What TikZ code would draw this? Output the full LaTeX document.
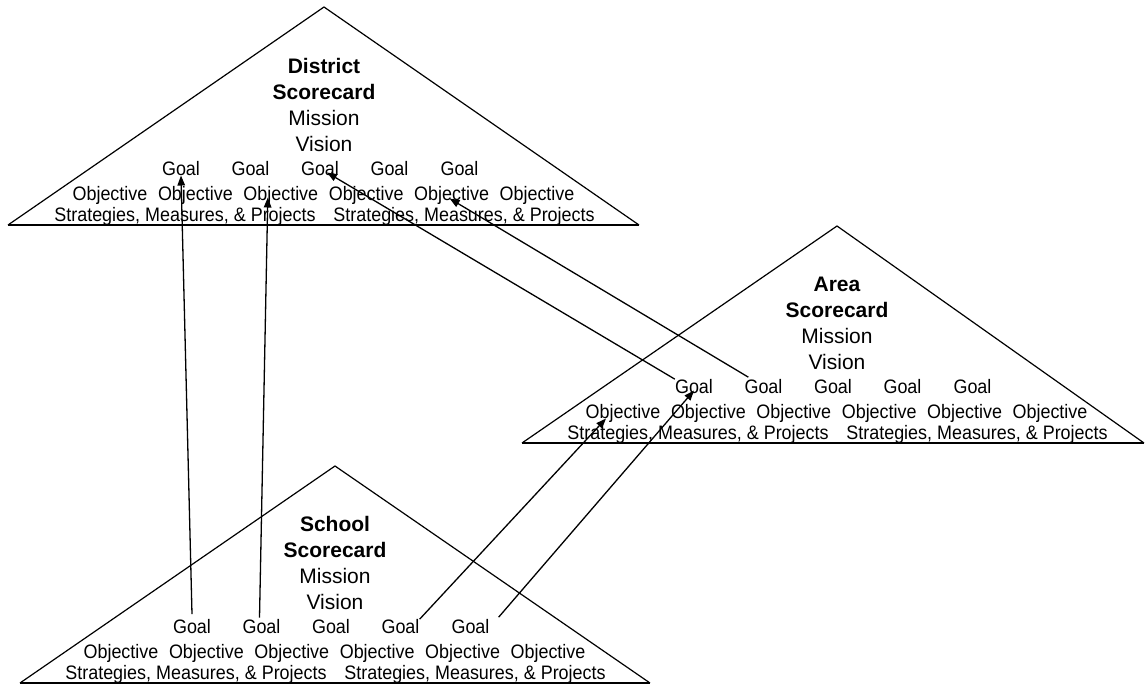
\documentclass[tikz,border=0pt]{standalone}
\usepackage{fontspec}
\setmainfont{Liberation Sans}
\newfontfamily\narrowsans{Liberation Sans}[FakeStretch=0.92]
\usetikzlibrary{arrows.meta}

\tikzset{
  side/.style={line width=1.2pt, line join=miter},
  baseline rule/.style={line width=2pt},
  txt/.style={inner sep=0pt, anchor=base},
  title/.style={txt, font=\fontsize{21}{21}\selectfont\bfseries},
  big/.style={txt, font=\fontsize{21}{21}\selectfont},
  small/.style={txt, font=\narrowsans\fontsize{19.5}{19.5}\selectfont},
  arr/.style={line width=1.3pt, -{Triangle[length=10pt,width=7.5pt]}},
}

% #1 name prefix, #2 left x, #3 apex x, #4 apex y, #5 right x, #6 base y, #7 title word
\newcommand\scorecardtri[7]{%
  \draw[side] (#2,#6) -- (#3,#4) -- (#5,#6);
  \draw[baseline rule] (#2,#6) -- (#5,#6);
  \begin{scope}[shift={(#3,#6)}]
    \node[title] (#1-t1) at (0,-151.5) {#7};
    \node[title] (#1-t2) at (0,-125.5) {Scorecard};
    \node[big]   (#1-m)  at (0,-99.5)  {Mission};
    \node[big]   (#1-v)  at (0,-73.5)  {Vision};
    \foreach \dx [count=\i] in {-143,-73.5,-4,65.5,135.5}
      \node[small] (#1-g\i) at (\dx,-49.5) {Goal};
    \foreach \dx [count=\i] in {-214,-128.6,-43.2,42.2,127.6,213}
      \node[small] (#1-o\i) at (\dx,-24.5) {Objective};
    \node[small] (#1-s1) at (-139,-3.5) {Strategies, Measures, \& Projects};
    \node[small] (#1-s2) at (140,-3.5)  {Strategies, Measures, \& Projects};
  \end{scope}
}

\begin{document}
\begin{tikzpicture}[x=1pt, y=-1pt]
  \useasboundingbox (0,0) rectangle (1145,685);

  \scorecardtri{d}{8}{324}{7}{639}{225}{District}
  \scorecardtri{a}{522}{837}{226}{1144}{443}{Area}
  \scorecardtri{s}{20}{335}{466}{650}{683}{School}

  % school goals feeding the district scorecard
  \draw[arr] ([yshift=5pt]s-g1.north) -- (d-g1.base);
  \draw[arr] ([xshift=-2pt,yshift=1.5pt]s-g2.north) -- ([xshift=-13pt,yshift=3pt]d-o3.base);
  % area goals feeding the district scorecard
  \draw[arr] (a-g1.north west) -- ([xshift=7pt,yshift=3pt]d-g3.base);
  \draw[arr] ([xshift=4pt,yshift=2pt]a-g2.north west) -- ([xshift=-2pt,yshift=2pt]d-o5.base);
  % school goals feeding the area scorecard
  \draw[arr] (s-g4.north east) -- ([xshift=-17pt]a-o1.base);
  \draw[arr] ([xshift=9pt,yshift=2pt]s-g5.north east) -- ([yshift=3pt]a-g1.base);
\end{tikzpicture}
\end{document}
